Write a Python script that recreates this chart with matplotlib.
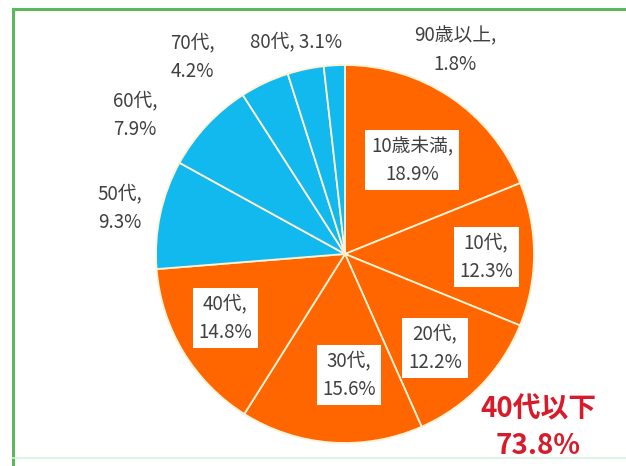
import matplotlib
matplotlib.use("Agg")
import matplotlib.pyplot as plt
from matplotlib.lines import Line2D

plt.rcParams['font.family'] = ['Noto Sans CJK JP', 'DejaVu Sans']

# data
groups = ["10歳未満", "10代", "20代", "30代", "40代",
          "50代", "60代", "70代", "80代", "90歳以上"]
shares = [18.9, 12.3, 12.2, 15.6, 14.8, 9.3, 7.9, 4.2, 3.1, 1.8]
young_total = 73.8

# layout (pixels, origin top-left)
W, H = 626, 466
cx, cy, R = 345, 254, 189
label_xy = [(412, 160), (486, 257), (435, 348), (349, 375), (225, 318),
            (120, 208), (135, 115), (192, 57), (296, 42), (455, 50)]
orange, cyan = "#FF6600", "#12B9EE"
text_col = "#404040"

fig = plt.figure(figsize=(W / 100, H / 100), dpi=100)
ax = fig.add_axes([0, 0, 1, 1])

colors = [orange] * 5 + [cyan] * 5
wedges, _ = ax.pie(shares, colors=colors, startangle=90, counterclock=False,
                   center=(cx, H - cy), radius=R, frame=True,
                   wedgeprops=dict(edgecolor="#FFF3D6", linewidth=1.3))
ax.set_xlim(0, W)
ax.set_ylim(0, H)
ax.set_aspect("auto")
ax.axis("off")

for i, (g, v) in enumerate(zip(groups, shares)):
    x, y = label_xy[i]
    if g == "80代":
        s = f"{g}, {v}%"
    else:
        s = f"{g},\n{v}%"
    box = dict(boxstyle="square,pad=0.3", fc="white", ec="none") if i < 5 else None
    ax.text(x, H - y, s, ha="center", va="center", fontsize=13.5, color=text_col,
            linespacing=1.45, bbox=box)

ax.text(538, H - 409, "40代以下", ha="center", va="center", fontsize=20,
        color="#D81B2A", fontweight="bold")
ax.text(538, H - 446, f"{young_total}%", ha="center", va="center", fontsize=20,
        color="#D81B2A", fontweight="bold")

# green frame
fig.add_artist(Line2D([13 / W, 13 / W], [0, 1 - 9 / H], transform=fig.transFigure,
                      color="#5CB85C", lw=2.2))
fig.add_artist(Line2D([13 / W, 1], [1 - 9 / H, 1 - 9 / H], transform=fig.transFigure,
                      color="#5CB85C", lw=2.2))
fig.add_artist(Line2D([13 / W, 1], [1 - 458 / H, 1 - 458 / H], transform=fig.transFigure,
                      color="#D8F0E0", lw=1.2))

fig.savefig("out.png", dpi=100)
